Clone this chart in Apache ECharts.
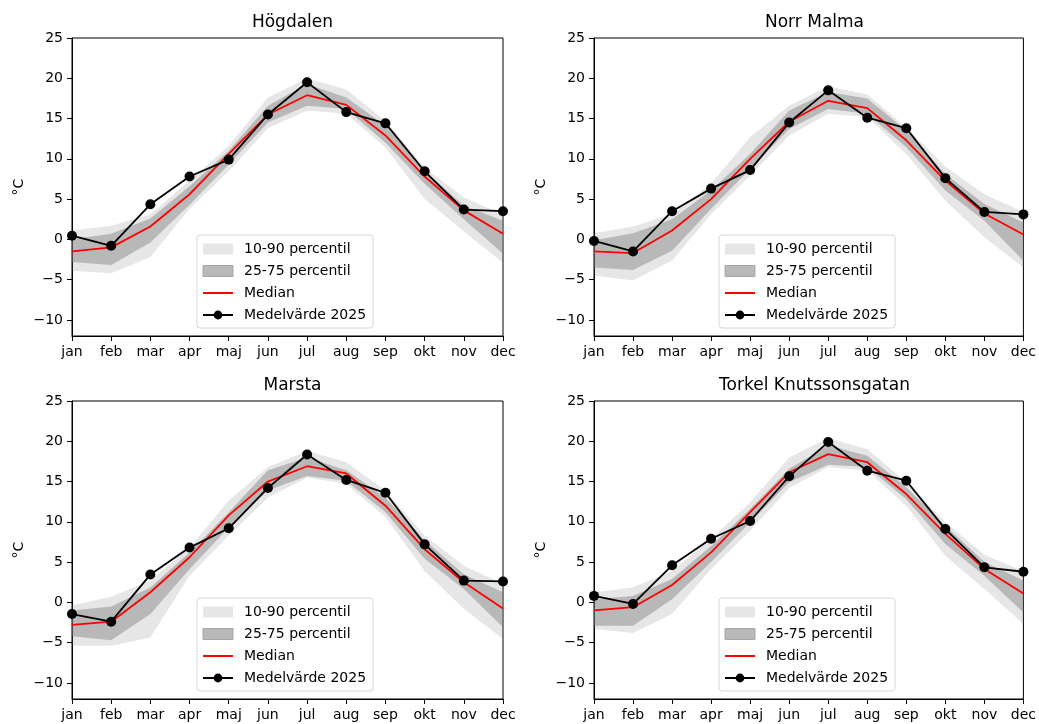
<!DOCTYPE html>
<html>
<head>
<meta charset="utf-8">
<script src="https://cdn.jsdelivr.net/npm/echarts@6/dist/echarts.min.js"></script>
<style>
  html, body { margin: 0; padding: 0; background: #fff; }
  #chart { width: 1039px; height: 724px; }
</style>
</head>
<body>
<div id="chart"></div>
<script>
var months = ['jan', 'feb', 'mar', 'apr', 'maj', 'jun', 'jul', 'aug', 'sep', 'okt', 'nov', 'dec'];
var stations = ['Högdalen', 'Norr Malma', 'Marsta', 'Torkel Knutssonsgatan'];
var yTicks = [-10, -5, 0, 5, 10, 15, 20, 25];

// Högdalen
var hogP10 = [-3.9, -4.2, -2.2, 3.8, 8.5, 13.8, 16.0, 15.6, 11.4, 5.0, 1.0, -2.9];
var hogP25 = [-2.8, -3.2, -0.4, 4.3, 9.3, 14.5, 16.6, 16.2, 12.0, 6.9, 2.5, -1.8];
var hogP75 = [0.0, 0.7, 2.6, 6.6, 11.0, 16.6, 19.3, 17.6, 14.1, 8.5, 4.2, 2.3];
var hogP90 = [1.1, 1.7, 3.1, 7.3, 11.6, 17.6, 20.0, 18.6, 14.7, 8.9, 5.2, 3.1];
var hogMedian = [-1.5, -1.0, 1.6, 5.6, 10.6, 15.5, 17.9, 16.7, 12.9, 7.8, 3.6, 0.7];
var hogMedel = [0.45, -0.8, 4.35, 7.8, 9.9, 15.5, 19.5, 15.8, 14.4, 8.45, 3.7, 3.5];

// Norr Malma
var norP10 = [-4.5, -5.1, -2.65, 3.15, 7.9, 12.9, 15.6, 15.2, 10.6, 4.8, 0.25, -3.5];
var norP25 = [-3.5, -3.8, -1.4, 3.8, 8.75, 13.7, 16.2, 15.6, 11.45, 6.05, 2.3, -2.65];
var norP75 = [-0.1, 0.75, 2.5, 6.1, 10.6, 16.0, 18.3, 17.5, 13.5, 8.1, 4.4, 2.1];
var norP90 = [0.75, 1.6, 3.15, 6.9, 12.7, 16.6, 19.0, 18.0, 13.9, 9.0, 5.6, 3.4];
var norMedian = [-1.5, -1.7, 1.1, 5.0, 10.0, 14.6, 17.2, 16.3, 12.3, 7.3, 3.2, 0.6];
var norMedel = [-0.2, -1.5, 3.5, 6.3, 8.6, 14.5, 18.5, 15.1, 13.8, 7.6, 3.4, 3.1];

// Marsta
var marP10 = [-5.4, -5.4, -4.35, 3.3, 8.3, 13.0, 15.5, 14.7, 10.6, 3.9, -0.8, -4.55];
var marP25 = [-4.2, -4.7, -1.45, 4.1, 9.3, 13.9, 15.7, 15.1, 11.2, 5.4, 1.65, -3.1];
var marP75 = [-1.0, -0.5, 1.85, 6.2, 11.2, 16.4, 18.0, 16.4, 13.0, 7.7, 3.5, 1.25];
var marP90 = [-0.35, 0.7, 2.7, 6.8, 12.6, 16.8, 18.8, 17.4, 13.9, 8.3, 4.55, 2.3];
var marMedian = [-2.8, -2.4, 1.25, 5.6, 10.8, 15.0, 16.9, 16.0, 12.0, 6.6, 2.5, -0.75];
var marMedel = [-1.45, -2.4, 3.45, 6.8, 9.2, 14.2, 18.35, 15.2, 13.6, 7.2, 2.7, 2.6];

// Torkel Knutssonsgatan
var torP10 = [-3.3, -3.8, -1.45, 4.15, 8.9, 14.2, 16.8, 16.35, 12.0, 5.8, 1.65, -2.7];
var torP25 = [-2.9, -2.9, 0.4, 5.0, 9.9, 14.9, 17.1, 16.8, 12.8, 7.25, 3.3, -1.25];
var torP75 = [0.4, 0.8, 2.9, 7.0, 11.6, 16.6, 19.5, 18.2, 14.3, 9.5, 5.0, 2.7];
var torP90 = [1.25, 1.85, 3.9, 7.9, 12.4, 18.0, 20.4, 19.05, 14.9, 9.95, 5.9, 3.9];
var torMedian = [-1.0, -0.6, 2.15, 6.2, 11.2, 16.15, 18.4, 17.4, 13.45, 8.5, 4.15, 1.1];
var torMedel = [0.8, -0.2, 4.6, 7.9, 10.1, 15.65, 19.9, 16.35, 15.1, 9.1, 4.35, 3.8];

var panels = [
  { p10: hogP10, p25: hogP25, p75: hogP75, p90: hogP90, median: hogMedian, medel: hogMedel },
  { p10: norP10, p25: norP25, p75: norP75, p90: norP90, median: norMedian, medel: norMedel },
  { p10: marP10, p25: marP25, p75: marP75, p90: marP90, median: marMedian, medel: marMedel },
  { p10: torP10, p25: torP25, p75: torP75, p90: torP90, median: torMedian, medel: torMedel }
];

var FONT = 'DejaVu Sans';
var lefts = [72, 594, 72, 594];
var tops = [38, 38, 401, 401];
var W = 431, H = 298;

function diff(a, b) {
  return a.map(function (v, i) { return +(v - b[i]).toFixed(3); });
}

var grid = [], xAxis = [], yAxis = [], title = [], legend = [], series = [];

for (var i = 0; i < 4; i++) {
  var d = panels[i];
  grid.push({
    left: lefts[i], top: tops[i], width: W, height: H,
    show: true, borderColor: '#000', borderWidth: 1, backgroundColor: 'transparent'
  });
  xAxis.push({
    type: 'category', gridIndex: i, data: months, boundaryGap: false,
    axisLine: { onZero: false, lineStyle: { color: '#000', width: 1 } },
    axisTick: { length: 5, lineStyle: { color: '#000' } },
    axisLabel: { color: '#000', fontSize: 14, fontFamily: FONT, margin: 9 },
    splitLine: { show: false }
  });
  yAxis.push({
    type: 'value', gridIndex: i, min: -12, max: 25,
    name: '°C', nameLocation: 'middle', nameGap: 46, nameRotate: 90,
    nameTextStyle: { color: '#000', fontSize: 14, fontFamily: FONT },
    axisLine: { show: true, onZero: false, lineStyle: { color: '#000', width: 1 } },
    axisTick: { show: true, length: 5, customValues: yTicks, lineStyle: { color: '#000' } },
    axisLabel: {
      color: '#000', fontSize: 14, fontFamily: FONT, margin: 9, customValues: yTicks,
      formatter: function (v) { return String(v).replace('-', '\u2212'); }
    },
    splitLine: { show: false }
  });
  title.push({
    text: stations[i], left: lefts[i] + W / 2, top: tops[i] - 29, textAlign: 'center',
    textStyle: { fontSize: 17, fontWeight: 'normal', color: '#000', fontFamily: FONT }
  });
  legend.push({
    orient: 'vertical', left: lefts[i] + 125, top: tops[i] + 197,
    itemWidth: 30, itemHeight: 11, itemGap: 6,
    padding: [6, 7, 5, 5],
    backgroundColor: 'rgba(255,255,255,0.8)', borderColor: '#d6d6d6', borderWidth: 1, borderRadius: 3,
    selectedMode: false,
    textStyle: { fontSize: 14, fontFamily: FONT, color: '#000', lineHeight: 16, padding: [0, 0, 0, 6] },
    data: [
      { name: '10-90 percentil', icon: 'rect', itemStyle: { color: '#e6e6e6', borderWidth: 0 } },
      { name: '25-75 percentil', icon: 'rect', itemStyle: { color: '#b9b9b9', borderColor: '#a6a6a6', borderWidth: 1 } },
      { name: 'Median', itemStyle: { opacity: 0 }, lineStyle: { color: '#ff0000', width: 2 } },
      { name: 'Medelvärde 2025', lineStyle: { color: '#000', width: 2 } }
    ]
  });

  var hidden = { width: 0, opacity: 0 };
  series.push(
    {
      name: 'p10_' + i, type: 'line', xAxisIndex: i, yAxisIndex: i, data: d.p10,
      stack: 'light' + i, stackStrategy: 'all', symbol: 'none', lineStyle: hidden, silent: true, z: 1
    },
    {
      name: '10-90 percentil', type: 'line', xAxisIndex: i, yAxisIndex: i, data: diff(d.p90, d.p10),
      stack: 'light' + i, stackStrategy: 'all', symbol: 'none', lineStyle: hidden, silent: true, z: 1,
      itemStyle: { color: '#e6e6e6' },
      areaStyle: { color: 'rgba(128,128,128,0.2)', opacity: 1 }
    },
    {
      name: 'p25_' + i, type: 'line', xAxisIndex: i, yAxisIndex: i, data: d.p25,
      stack: 'dark' + i, stackStrategy: 'all', symbol: 'none', lineStyle: hidden, silent: true, z: 2
    },
    {
      name: '25-75 percentil', type: 'line', xAxisIndex: i, yAxisIndex: i, data: diff(d.p75, d.p25),
      stack: 'dark' + i, stackStrategy: 'all', symbol: 'none', lineStyle: hidden, silent: true, z: 2,
      itemStyle: { color: '#b9b9b9' },
      areaStyle: { color: 'rgba(128,128,128,0.45)', opacity: 1 }
    },
    {
      name: 'Median', type: 'line', xAxisIndex: i, yAxisIndex: i, data: d.median,
      symbol: 'none', z: 3,
      itemStyle: { color: '#ff0000' },
      lineStyle: { color: '#ff0000', width: 1.8 }
    },
    {
      name: 'Medelvärde 2025', type: 'line', xAxisIndex: i, yAxisIndex: i, data: d.medel,
      symbol: 'circle', symbolSize: 10, z: 4,
      itemStyle: { color: '#000' },
      lineStyle: { color: '#000', width: 1.8 }
    }
  );
}

var myChart = echarts.init(document.getElementById('chart'), null, { renderer: 'canvas' });
var option = {
  backgroundColor: '#fff',
  animation: false,
  title: title,
  grid: grid,
  xAxis: xAxis,
  yAxis: yAxis,
  legend: legend,
  series: series
};
myChart.setOption(option);
</script>
</body>
</html>
